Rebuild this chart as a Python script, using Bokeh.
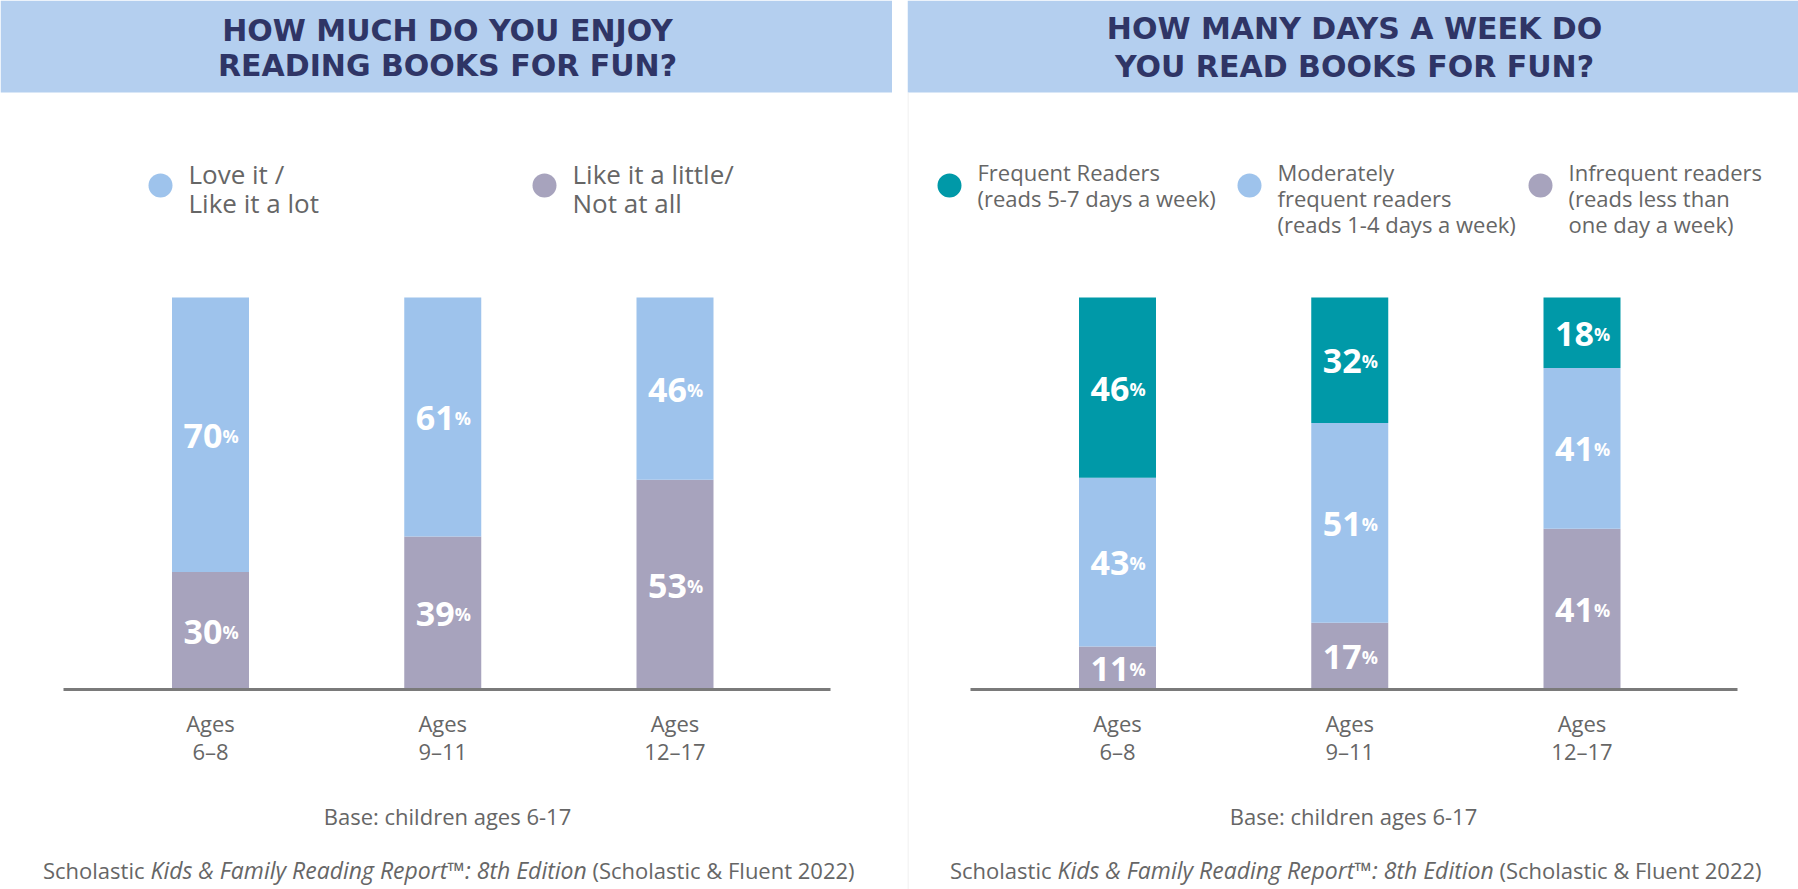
from bokeh.plotting import figure
from bokeh.models import Range1d, ColumnDataSource, BoxAnnotation
from bokeh.layouts import row
from bokeh.core.properties import value
from bokeh.embed import file_html
from bokeh.resources import INLINE

# data
ages = ["6–8", "9–11", "12–17"]
love = [70, 61, 46]
little = [30, 39, 53]
frequent = [46, 32, 18]
moderate = [43, 51, 41]
infrequent = [11, 17, 41]

BLUE = "#9ec3ec"
GRAY = "#a7a3bd"
TEAL = "#0099a8"
HEADER = "#b4cfef"
NAVY = "#2f3566"
TXT = "#666666"

BASE_Y = 689.0   # baseline, page pixels
PX_PER_PCT = 3.92
FONT = "Open Sans"
CENTERS = [210, 440, 674.5]   # bar centres inside a panel, pixels


def make_panel(width, title_lines, title_ys, title_x, series, colors,
               legend, legend_size, base_x, border=False):
    ppu = (CENTERS[2] - CENTERS[0]) / 2.0
    xs = -CENTERS[0] / ppu

    def X(px):
        return xs + px / ppu

    def Y(py):
        return (BASE_Y - py) / PX_PER_PCT

    p = figure(width=width, height=889, output_backend="svg", toolbar_location=None,
               x_range=Range1d(xs, xs + width / ppu), y_range=Range1d(Y(889), Y(0)),
               min_border=0)
    p.axis.visible = False
    p.grid.visible = False
    p.outline_line_color = None

    # header band
    p.add_layout(BoxAnnotation(bottom=Y(92), fill_color=HEADER, fill_alpha=1,
                               line_color=None, level="underlay"))
    if border:
        p.segment(x0=[X(0.5)], x1=[X(0.5)], y0=[Y(92)], y1=[Y(889)],
                  line_color="#ececec", line_width=1)
    for t, ty in zip(title_lines, title_ys):
        p.text(x=[X(title_x)], y=[Y(ty)], text=[t], text_font=value("DejaVu Sans"),
               text_font_style="bold", text_font_size="30px", text_color=NAVY,
               text_align="center", text_baseline="middle")

    # legend
    for (tx, lines, ys), col in zip(legend, colors[::-1]):
        p.scatter(x=[X(tx - 28)], y=[Y(185)], size=24, color=col, line_color=None)
        for ln, ly in zip(lines, ys):
            p.text(x=[X(tx)], y=[Y(ly)], text=[ln], text_font=value(FONT),
                   text_font_size=legend_size, text_color=TXT, text_align="left",
                   text_baseline="middle")

    # stacked bars, each normalised to 100
    totals = [sum(v) for v in zip(*series)]
    data = {"x": list(range(len(ages)))}
    names = []
    for i, s in enumerate(series):
        data["s%d" % i] = [v * 100.0 / t for v, t in zip(s, totals)]
        names.append("s%d" % i)
    src = ColumnDataSource(data)
    p.vbar_stack(names, x="x", width=77 / ppu, color=colors, line_color=None, source=src)

    # value labels
    lx, ly, nums = [], [], []
    for j in range(len(ages)):
        cum = 0.0
        for i, s in enumerate(series):
            h = data["s%d" % i][j]
            lx.append(j)
            ly.append(cum + h / 2.0)
            nums.append(str(s[j]))
            cum += h
    p.text(x=lx, y=ly, text=nums, text_font=value(FONT), text_font_style="bold",
           text_font_size="34px", text_color="white", text_align="right",
           text_baseline="alphabetic", x_offset=12, y_offset=1)
    p.text(x=lx, y=ly, text=["%"] * len(nums), text_font=value(FONT), text_font_style="bold",
           text_font_size="18px", text_color="white", text_align="left",
           text_baseline="alphabetic", x_offset=12, y_offset=1)

    # baseline
    p.segment(x0=[X(63)], x1=[X(830)], y0=[0], y1=[0], line_color="#7a7a7a", line_width=3)

    # category labels
    idx = list(range(len(ages)))
    p.text(x=idx, y=[Y(722)] * 3, text=["Ages"] * 3, text_font=value(FONT),
           text_font_size="22px", text_color=TXT, text_align="center", text_baseline="middle")
    p.text(x=idx, y=[Y(750)] * 3, text=ages, text_font=value(FONT),
           text_font_size="22px", text_color=TXT, text_align="center", text_baseline="middle")

    p.text(x=[X(base_x)], y=[Y(815)], text=["Base: children ages 6-17"], text_font=value(FONT),
           text_font_size="22px", text_color=TXT, text_align="center", text_baseline="middle")

    # source line, partly italic
    p.text(x=[X(144)], y=[Y(869)], text=["Scholastic"], text_font=value(FONT),
           text_font_size="22px", text_color=TXT, text_align="right", text_baseline="middle")
    p.text(x=[X(150)], y=[Y(869)], text=["Kids & Family Reading Report™: 8th Edition"],
           text_font=value(FONT), text_font_style="italic", text_font_size="23px",
           text_color=TXT, text_align="left", text_baseline="middle")
    p.text(x=[X(592)], y=[Y(869)], text=["(Scholastic & Fluent 2022)"], text_font=value(FONT),
           text_font_size="22px", text_color=TXT, text_align="left", text_baseline="middle")
    return p


p1 = make_panel(
    892, ["HOW MUCH DO YOU ENJOY", "READING BOOKS FOR FUN?"], [30, 65], 447,
    [little, love], [GRAY, BLUE],
    [(188, ["Love it /", "Like it a lot"], [173, 202]),
     (572, ["Like it a little/", "Not at all"], [173, 202])],
    "26px", 447)

p2 = make_panel(
    891, ["HOW MANY DAYS A WEEK DO", "YOU READ BOOKS FOR FUN?"], [28, 66], 447,
    [infrequent, moderate, frequent], [GRAY, BLUE, TEAL],
    [(70, ["Frequent Readers", "(reads 5-7 days a week)"], [171, 197]),
     (370, ["Moderately", "frequent readers", "(reads 1-4 days a week)"], [171, 197, 223]),
     (661, ["Infrequent readers", "(reads less than", "one day a week)"], [171, 197, 223])],
    "22px", 446, border=True)

layout = row(p1, p2, spacing=15)
open("out.html", "w").write(file_html(layout, INLINE))
